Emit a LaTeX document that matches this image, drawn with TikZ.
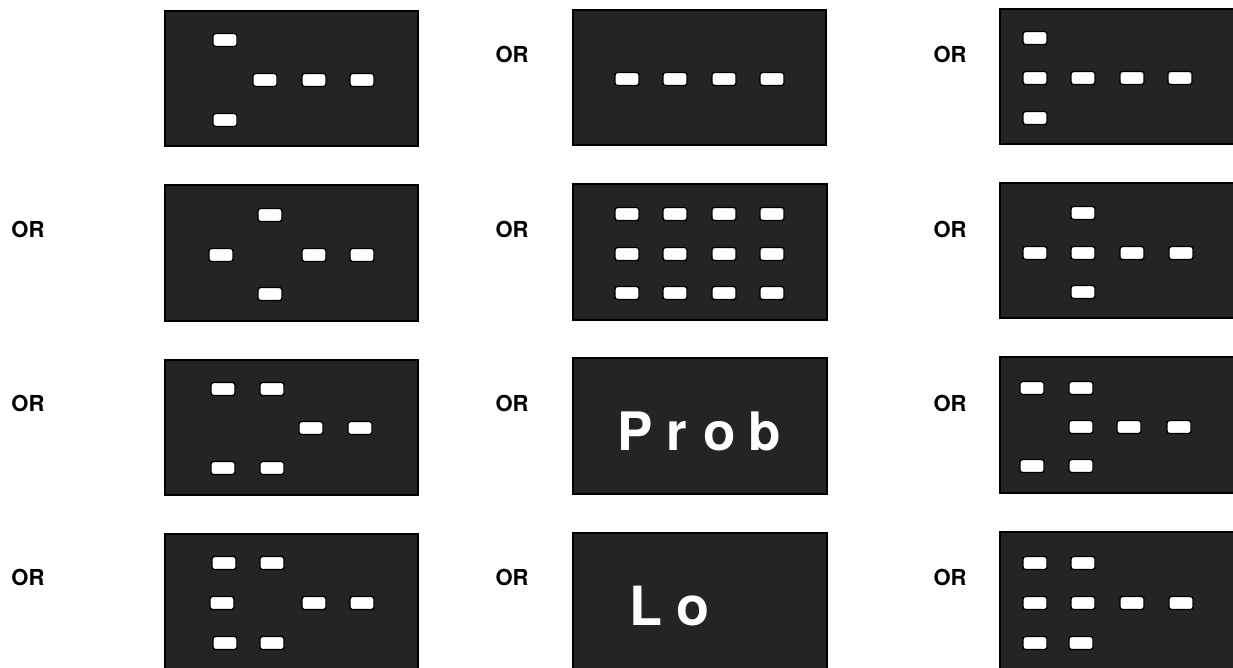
\documentclass[tikz,border=0pt]{standalone}
\usepackage{fontspec}
\setmainfont{TeX Gyre Heros}
\begin{document}
\begin{tikzpicture}[x=1pt,y=-1pt,
  panel/.style={fill=black!86,draw=black,line width=1.2pt},
  lamp/.style={fill=white,draw=black,line width=1.4pt,rounded corners=2.5pt,minimum width=24pt,minimum height=13pt,inner sep=0pt},
  orlabel/.style={font=\fontsize{22}{22}\selectfont\bfseries,inner sep=0pt,text=black},
  word/.style={font=\bfseries,text=white,inner sep=0pt,anchor=base west}]
\useasboundingbox (0,0) rectangle (1233,667);
\clip (0,0) rectangle (1233,667);
\fill[white] (0,0) rectangle (1233,667);
% panels
\draw[panel] (165,11) rectangle (418,146);
\draw[panel] (573,10) rectangle (826,145);
\draw[panel] (1000,9) rectangle (1253,144);
\draw[panel] (165,185) rectangle (418,321);
\draw[panel] (573,184) rectangle (827,320);
\draw[panel] (1000,183) rectangle (1253,318);
\draw[panel] (165,360) rectangle (418,495);
\draw[panel] (573,358) rectangle (827,494);
\draw[panel] (1000,357) rectangle (1253,493);
\draw[panel] (165,534) rectangle (418,690);
\draw[panel] (573,533) rectangle (827,690);
\draw[panel] (1000,532) rectangle (1253,690);
% OR labels
\foreach \x/\y/\n in {512/54/a, 950/54/b, 28/229/c, 512/229/d, 950/229/e, 28/403/f, 512/403/g, 950/403/h, 28/577/i, 512/577/j, 950/577/k}
  \node[orlabel] (or\n) at (\x,\y) {OR};
% panel 1,1
\foreach \x/\y [count=\i] in {225/40, 265/80, 314/80, 362/80, 225/120}
  \node[lamp] (pa\i) at (\x,\y) {};
% panel 1,2
\foreach \x/\y [count=\i] in {627/79, 675/79, 724/79, 772/79}
  \node[lamp] (pb\i) at (\x,\y) {};
% panel 1,3
\foreach \x/\y [count=\i] in {1035/38, 1035/78, 1083/78, 1132/78, 1180/78, 1035/118}
  \node[lamp] (pc\i) at (\x,\y) {};
% panel 2,1
\foreach \x/\y [count=\i] in {270/215, 221/255, 314/255, 362/255, 270/294}
  \node[lamp] (pd\i) at (\x,\y) {};
% panel 2,2
\foreach \y [count=\j] in {214,254,293}
  \foreach \x [count=\i] in {627,675,724,772}
    \node[lamp] (pe\j\i) at (\x,\y) {};
% panel 2,3
\foreach \x/\y [count=\i] in {1083/213, 1035/253, 1083/253, 1132/253, 1181/253, 1083/292}
  \node[lamp] (pf\i) at (\x,\y) {};
% panel 3,1
\foreach \x/\y [count=\i] in {223/389, 272/389, 311/428, 360/428, 223/468, 272/468}
  \node[lamp] (pg\i) at (\x,\y) {};
% panel 3,2
\node[word,font=\fontsize{53}{53}\selectfont\bfseries] (prob) at (617,450) {P\hspace{14pt}r\hspace{16pt}o\hspace{13pt}b};
% panel 3,3
\foreach \x/\y [count=\i] in {1032/388, 1081/388, 1081/427, 1129/427, 1179/427, 1032/466, 1081/466}
  \node[lamp] (ph\i) at (\x,\y) {};
% panel 4,1
\foreach \x/\y [count=\i] in {224/563, 272/563, 222/603, 314/603, 362/603, 225/643, 272/643}
  \node[lamp] (pi\i) at (\x,\y) {};
% panel 4,2
\node[word,font=\fontsize{54}{54}\selectfont\bfseries] (lo) at (629,625) {L\hspace{14pt}o};
% panel 4,3
\foreach \x/\y [count=\i] in {1035/563, 1083/563, 1035/603, 1083/603, 1132/603, 1181/603, 1035/643, 1081/643}
  \node[lamp] (pj\i) at (\x,\y) {};
\end{tikzpicture}
\end{document}
